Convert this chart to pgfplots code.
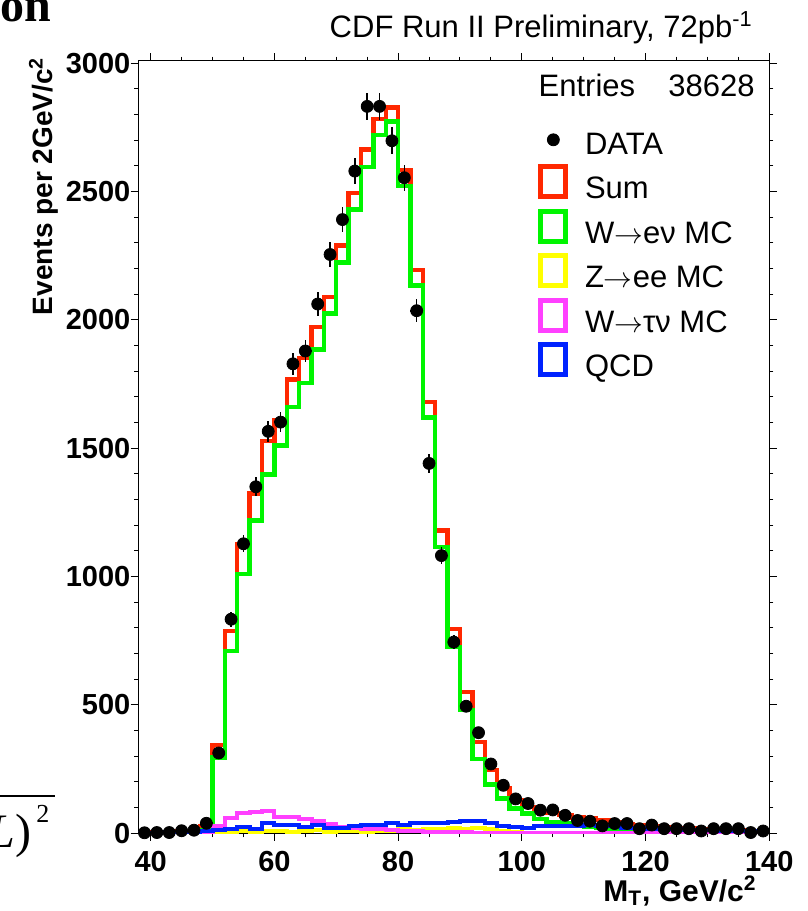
\documentclass[border=0pt]{standalone}
\usepackage{pgfplots}
\pgfplotsset{compat=1.18}
\usepackage{pgfplotstable}
\usepackage{fontspec}
\setmainfont{Liberation Sans}
\newfontfamily\seriffont{Liberation Serif}
\definecolor{hred}{RGB}{255,40,0}
\definecolor{hgreen}{RGB}{0,245,0}
\definecolor{hyellow}{RGB}{255,255,0}
\definecolor{hmag}{RGB}{255,64,255}
\definecolor{hblue}{RGB}{0,34,255}
\pgfplotsset{
  boxleg/.style={legend image code/.code={\draw[##1] (1.25pt,-3.25pt) rectangle (13.75pt,11.75pt);}},
  dotleg/.style={legend image code/.code={\draw[##1] plot[only marks] coordinates {(7.5pt,3pt)};}},
}
\newcommand{\arr}{$\rightarrow$}

\pgfplotstableread{
edge sum wen zee wtn qcd
38 2 0 0 0 2
40 4 0 0 1 3
42 6 0 0 2 4
44 8 0 0 3 5
46 10 0 0 4 6
48 26 12 1 5 8
50 345 295 3 30 13
52 789 710 5 60 17
54 1128 1011 8 80 26
56 1324 1219 7 82 16
58 1528 1398 10 88 39
60 1610 1511 8 65 33
62 1768 1660 6 63 34
64 1852 1755 10 55 26
66 1972 1885 12 48 32
68 2090 2025 6 35 19
70 2290 2224 8 25 19
72 2494 2431 10 20 29
74 2664 2597 6 17 34
76 2784 2721 8 15 32
78 2828 2773 10 12 39
80 2585 2521 18 10 32
82 2195 2134 12 8 39
84 1680 1620 15 6 42
86 1180 1115 18 5 40
88 795 725 22 5 45
90 550 480 18 4 48
92 355 290 20 3 46
94 246 190 15 3 40
96 176 136 10 2 30
98 130 97 5 2 24
100 103 77 3 1 22
102 86 55 2 1 28
104 78 45 2 1 30
106 71 38 2 1 30
108 62 30 1 1 30
110 58 25 1 1 32
112 51 20 1 1 30
114 43 15 0 1 28
116 34 12 0 1 22
118 30 10 0 1 20
120 26 8 0 1 18
122 22 6 0 1 16
124 20 5 0 1 15
126 18 4 0 1 14
128 15 3 0 1 12
130 15 3 0 1 12
132 12 2 0 1 10
134 12 2 0 1 10
136 9 1 0 1 8
138 9 1 0 1 8
140 9 1 0 1 8
}\hist

\pgfplotstableread{
x y ey
39 2 1.4
41 3 1.7
43 3 1.7
45 10 3.2
47 12 3.5
49 39 6.2
51 313 17.7
53 834 28.9
55 1128 33.6
57 1350 36.7
59 1566 39.6
61 1602 40.0
63 1829 42.8
65 1879 43.3
67 2062 45.4
69 2255 47.5
71 2391 48.9
73 2580 50.8
75 2832 53.2
77 2832 53.2
79 2698 51.9
81 2554 50.5
83 2036 45.1
85 1441 38.0
87 1082 32.9
89 745 27.3
91 495 22.2
93 392 19.8
95 270 16.4
97 187 13.7
99 134 11.6
101 116 10.8
103 90 9.5
105 91 9.5
107 70 8.4
109 50 7.1
111 47 6.9
113 29 5.4
115 38 6.2
117 38 6.2
119 18 4.2
121 32 5.7
123 18 4.2
125 18 4.2
127 18 4.2
129 9 3.0
131 18 4.2
133 18 4.2
135 18 4.2
137 3 1.7
139 9 3.0
}\data

\begin{document}
\begin{tikzpicture}
\useasboundingbox (0,0) rectangle (404pt,455.5pt);
\begin{axis}[
  at={(69.15pt,38.85pt)}, anchor=south west,
  scale only axis, width=315.5pt, height=386.3pt,
  xmin=38, xmax=140, ymin=0, ymax=3010,
  xtick={40,60,...,140}, ytick={0,500,...,3000},
  minor x tick num=3, minor y tick num=4,
  tick align=outside, major tick length=3.8pt, minor tick length=2pt,
  axis line style={line width=0.6pt},
  every tick/.style={black, line width=0.5pt},
  /pgf/number format/assume math mode=true,
  /pgf/number format/set thousands separator={},
  ticklabel style={font=\bfseries\fontsize{14.5}{14.5}\selectfont},
  yticklabel style={inner sep=0pt, xshift=0pt},
  xticklabel style={inner sep=0pt, yshift=-4.9pt},
  legend style={at={(0.634,0.9125)}, anchor=north west, draw=none, fill=none,
    inner sep=0pt, outer sep=0pt, row sep=0.5pt, column sep=8.35pt,
    font=\fontsize{15.5}{15.5}\selectfont,
    nodes={inner sep=0pt, text height=13pt, text depth=4.5pt}},
  legend cell align=left,
]
\addlegendimage{black, mark=*, mark size=3pt, dotleg}
\addlegendentry{DATA}
\addlegendimage{hred, line width=2.5pt, boxleg}
\addlegendentry{Sum}
\addlegendimage{hgreen, line width=2.5pt, boxleg}
\addlegendentry{W\arr eν MC}
\addlegendimage{hyellow, line width=2.5pt, boxleg}
\addlegendentry{Z\arr ee MC}
\addlegendimage{hmag, line width=2.5pt, boxleg}
\addlegendentry{W\arr τν MC}
\addlegendimage{hblue, line width=2.5pt, boxleg}
\addlegendentry{QCD}

\addplot[const plot, hred, line width=2.2pt, forget plot] table[x=edge, y=sum]{\hist};
\addplot[const plot, hgreen, line width=2.2pt, forget plot] table[x=edge, y=wen]{\hist};
\addplot[const plot, hyellow, line width=2pt, forget plot] table[x=edge, y=zee]{\hist};
\addplot[const plot, hmag, line width=2pt, forget plot] table[x=edge, y=wtn]{\hist};
\addplot[const plot, hblue, line width=2pt, forget plot] table[x=edge, y=qcd]{\hist};
\addplot[only marks, mark=*, mark size=3pt, black, forget plot,
  error bars/.cd, y dir=both, y explicit, x dir=both, x fixed=1,
  error mark=none, error bar style={line width=0.8pt, black}]
  table[x=x, y=y, y error=ey]{\data};
\end{axis}
\node[anchor=base east, inner sep=0pt, font=\fontsize{15.5}{15.5}\selectfont] at (376.5pt,436.85pt) {CDF Run II Preliminary, 72pb\textsuperscript{-1}};
\node[anchor=base west, inner sep=0pt, font=\fontsize{15.5}{15.5}\selectfont] at (269.15pt,407.15pt) {Entries};
\node[anchor=base east, inner sep=0pt, font=\fontsize{15.5}{15.5}\selectfont] at (377.5pt,407.15pt) {38628};
\node[rotate=90, anchor=base east, inner sep=0pt, font=\bfseries\fontsize{14}{14}\selectfont] at (26.5pt,427pt) {Events per 2GeV/c\textsuperscript{2}};
\node[anchor=base east, inner sep=0pt, font=\bfseries\fontsize{15}{15}\selectfont] at (378.5pt,5pt) {M\textsubscript{T}, GeV/c\textsuperscript{2}};
\node[anchor=base east, inner sep=0pt, font=\seriffont\bfseries\fontsize{24}{24}\selectfont] at (26pt,444.5pt) {on};
\draw[line width=1pt] (0pt,57.5pt) -- (27.5pt,57.5pt);
\node[anchor=base east, inner sep=0pt, font=\seriffont\fontsize{24}{24}\selectfont] at (16pt,31.5pt) {\textit{L})};
\node[anchor=base west, inner sep=0pt, font=\seriffont\fontsize{13}{13}\selectfont] at (18pt,44pt) {2};
\end{tikzpicture}
\end{document}
